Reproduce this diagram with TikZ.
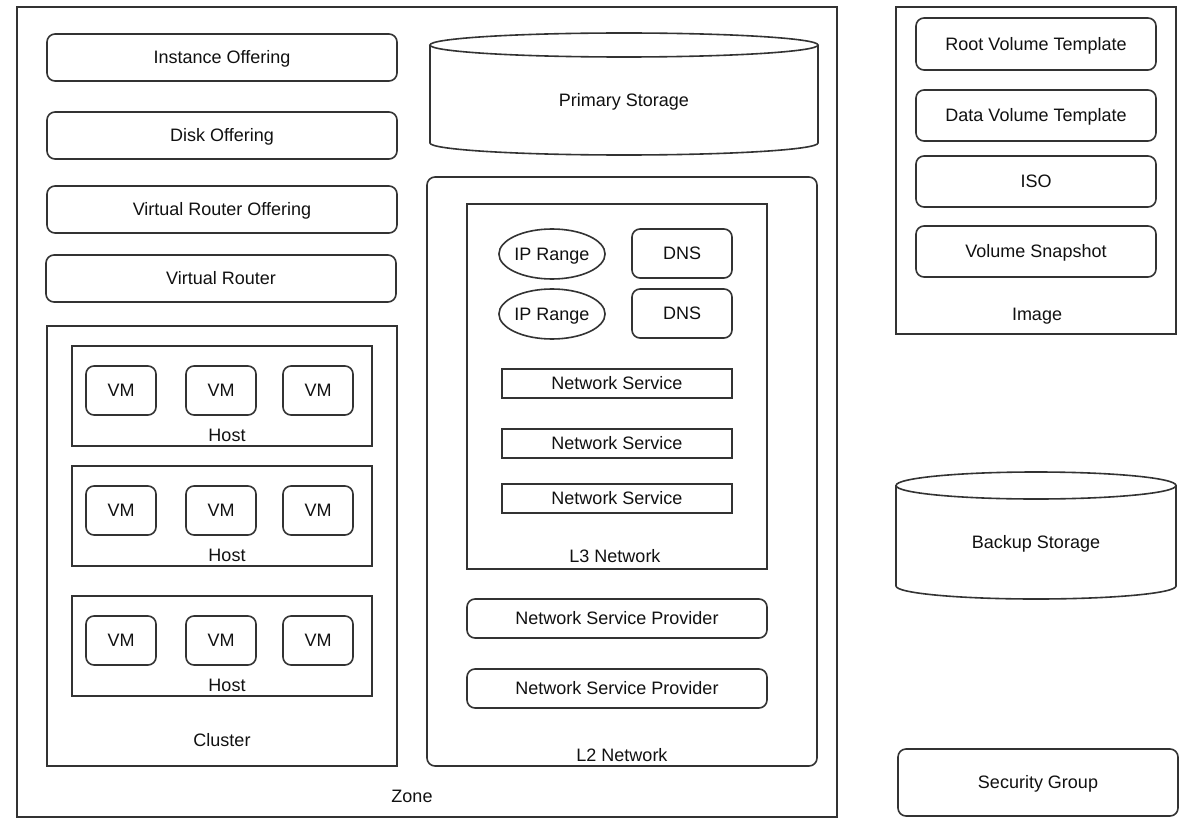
\documentclass[tikz,border=0pt]{standalone}
\usepackage{fontspec}
\setmainfont{Liberation Sans}
\usetikzlibrary{shapes.geometric}
\definecolor{edge}{HTML}{333333}
\definecolor{ink}{HTML}{111111}
\begin{document}
\begin{tikzpicture}[x=1pt,y=-1pt,
  every node/.style={font=\fontsize{18}{21}\selectfont, text=ink, text height=12.9pt, text depth=0pt},
  box/.style={draw=edge, line width=1.6pt, rectangle, inner sep=0pt},
  rbox/.style={box, rounded corners=8pt},
  oval/.style={draw=edge, line width=1.6pt, ellipse, inner sep=0pt},
  lbl/.style={inner sep=0pt},
  cyl/.style={draw=edge, line width=1.6pt}]
\useasboundingbox (0,0) rectangle (1196,824);
\fill[white] (0,0) rectangle (1196,824);

% Zone
\node[box, minimum width=820, minimum height=810] (zone) at (427,412) {};
\node[lbl] (zonel) at (412,796) {Zone};

% Offerings and router
\node[rbox, minimum width=350, minimum height=47] (io) at (222,57.5) {Instance Offering};
\node[rbox, minimum width=350, minimum height=47] (do) at (222,135.5) {Disk Offering};
\node[rbox, minimum width=350, minimum height=47] (vro) at (222,209.5) {Virtual Router Offering};
\node[rbox, minimum width=350, minimum height=47] (vr) at (221,278.5) {Virtual Router};

% Cluster with hosts and VMs
\node[box, minimum width=350, minimum height=440] (cluster) at (222,546) {};
\node[lbl] (clusterl) at (222,740) {Cluster};
\foreach \i/\y in {1/346,2/466,3/596} {
  \node[box, minimum width=300, minimum height=100] (host\i) at (222,\y+50) {};
  \node[lbl] (hostl\i) at (227,\y+89) {Host};
  \node[rbox, minimum width=70, minimum height=49] (vm\i a) at (121,\y+44.5) {VM};
  \node[rbox, minimum width=70, minimum height=49] (vm\i b) at (221,\y+44.5) {VM};
  \node[rbox, minimum width=70, minimum height=49] (vm\i c) at (318,\y+44.5) {VM};
}

% Primary storage cylinder
\draw[cyl] (430,45) -- (430,143) arc[start angle=180, end angle=0, x radius=194, y radius=12] -- (818,45);
\draw[cyl] (624,45) ellipse[x radius=194, y radius=12];
\node[lbl] (ps) at (624,100) {Primary Storage};

% L2 network
\node[rbox, minimum width=390, minimum height=589] (l2) at (622,471.5) {};
\node[lbl] (l2l) at (622,755) {L2 Network};

% L3 network
\node[box, minimum width=300, minimum height=365] (l3) at (617,386.5) {};
\node[lbl] (l3l) at (615,556) {L3 Network};
\node[oval, minimum width=98, minimum height=50] (ip1) at (552,254) {IP Range};
\node[oval, minimum width=102, minimum height=50] (ip2) at (552,314) {IP Range};
\node[rbox, minimum width=100, minimum height=49] (dns1) at (682,253.5) {DNS};
\node[rbox, minimum width=100, minimum height=49] (dns2) at (682,313.5) {DNS};
\node[box, minimum width=230, minimum height=29] (ns1) at (617,383.5) {Network Service};
\node[box, minimum width=230, minimum height=29] (ns2) at (617,443.5) {Network Service};
\node[box, minimum width=230, minimum height=29] (ns3) at (617,498.5) {Network Service};

% Network service providers
\node[rbox, minimum width=300, minimum height=39] (nsp1) at (617,618.5) {Network Service Provider};
\node[rbox, minimum width=300, minimum height=39] (nsp2) at (617,688.5) {Network Service Provider};

% Image store
\node[box, minimum width=280, minimum height=327] (image) at (1036,170.5) {};
\node[lbl] (imagel) at (1037,314) {Image};
\node[rbox, minimum width=240, minimum height=52] (rvt) at (1036,44) {Root Volume Template};
\node[rbox, minimum width=240, minimum height=51] (dvt) at (1036,115.5) {Data Volume Template};
\node[rbox, minimum width=240, minimum height=51] (iso) at (1036,181.5) {ISO};
\node[rbox, minimum width=240, minimum height=51] (vs) at (1036,251.5) {Volume Snapshot};

% Backup storage cylinder
\draw[cyl] (896,485.5) -- (896,586) arc[start angle=180, end angle=0, x radius=140, y radius=13] -- (1176,485.5);
\draw[cyl] (1036,485.5) ellipse[x radius=140, y radius=13.5];
\node[lbl] (bs) at (1036,542) {Backup Storage};

% Security group
\node[rbox, minimum width=280, minimum height=67] (sg) at (1038,782.5) {Security Group};
\end{tikzpicture}
\end{document}
